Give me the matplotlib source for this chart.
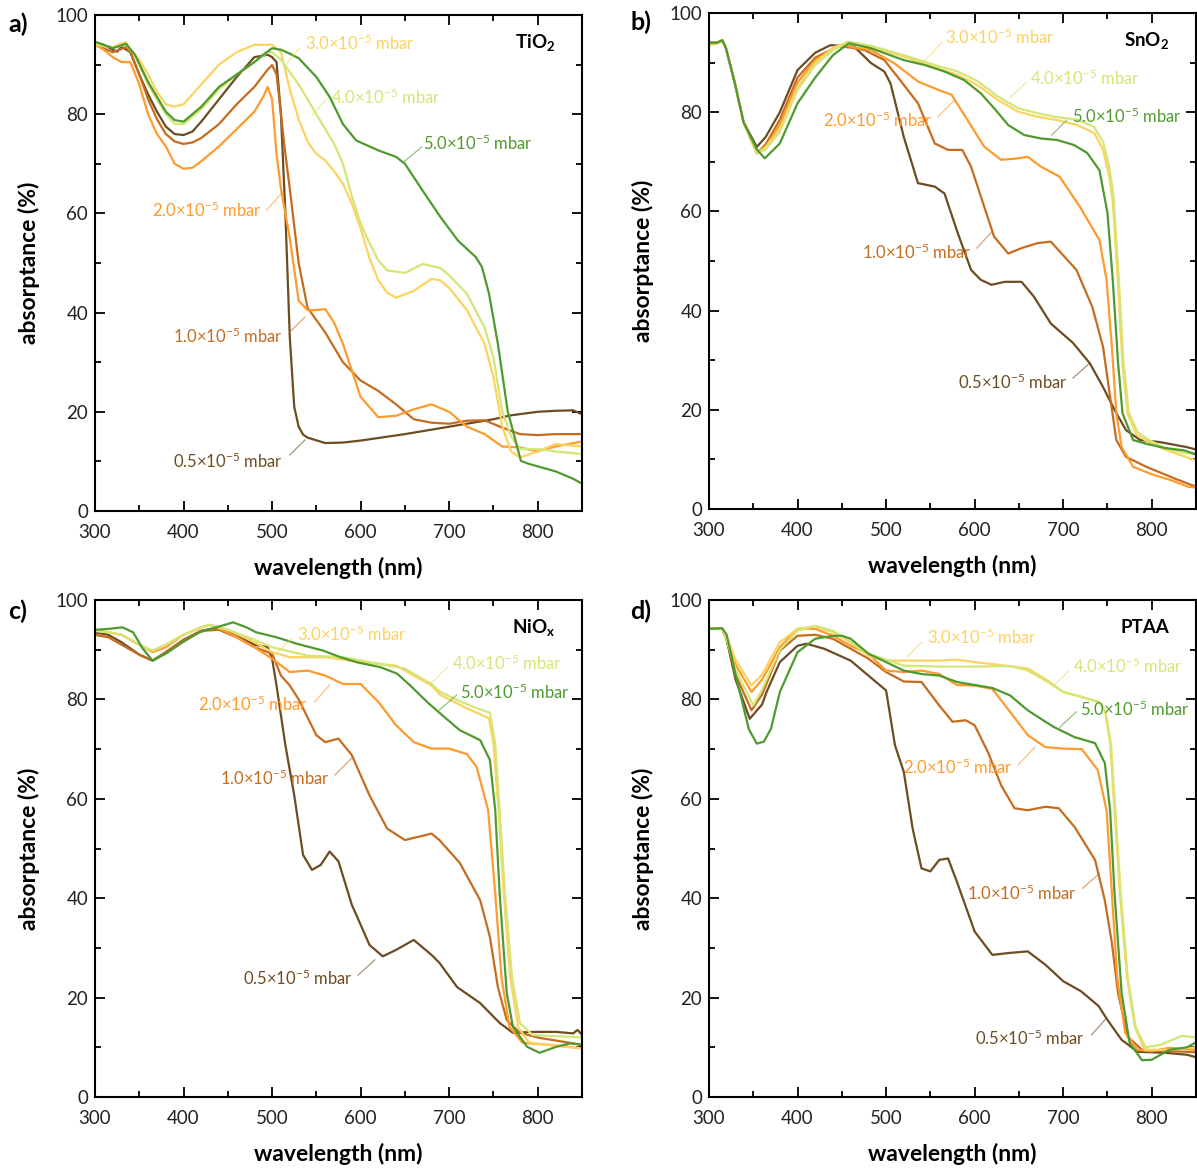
import matplotlib
matplotlib.use("Agg")
import matplotlib.pyplot as plt
from matplotlib.ticker import MultipleLocator

plt.rcParams['font.family'] = ['Lato', 'DejaVu Sans']
plt.rcParams['mathtext.fontset'] = 'custom'
plt.rcParams['mathtext.rm'] = 'Lato'
plt.rcParams['mathtext.bf'] = 'Lato:bold'
plt.rcParams['mathtext.it'] = 'Lato:italic'

series_labels = ["0.5", "1.0", "2.0", "3.0", "4.0", "5.0"]
colors = ["#6d4c22", "#c56c1f", "#ff9a2c", "#fcd35f", "#d3e677", "#4f9a2e"]
panel_titles = ["TiO$_\\mathbf{2}$", "SnO$_\\mathbf{2}$", "NiO$_\\mathbf{x}$", "PTAA"]
panel_letters = ["a)", "b)", "c)", "d)"]
x_ticks = [300, 400, 500, 600, 700, 800]
y_ticks = [0, 20, 40, 60, 80, 100]

# ---------------- a) TiO2 ----------------
tio2_wl_05 = [300,310,320,325,330,340,350,360,370,380,390,400,410,420,440,460,480,495,500,505,510,515,520,525,530,535,540,560,580,600,650,700,750,770,800,820,840,850]
tio2_05 = [94.5,94,93,92.6,93.6,92.5,88,84,80.5,77.5,76,75.8,76.5,78.5,83,87.5,91.5,92,91.5,90.5,80,60,35,21,17,15.4,14.8,13.7,13.8,14.2,15.5,17,18.5,19.3,20,20.2,20.3,19.5]
tio2_wl_10 = [300,320,335,340,350,360,370,380,390,400,410,420,440,460,480,495,500,505,510,515,520,530,540,550,560,580,600,620,640,660,680,700,720,740,760,780,800,820,850]
tio2_10 = [94,92.5,93.5,92.5,88,83,79,76,74.5,74,74.3,75.2,78,82,85.5,89,89.9,88,80,72,65,50,41,38.5,36,30,26.3,24.2,21.5,18.5,17.8,17.6,18.2,18.3,16.8,15.5,15.3,15.5,15.5]
tio2_wl_20 = [300,310,320,330,340,350,360,370,380,390,400,410,420,440,460,480,490,495,500,505,510,520,530,540,550,560,570,580,600,620,640,660,680,700,720,740,760,780,800,820,850]
tio2_20 = [94,93,91.5,90.5,90.5,86,80,76,73.5,70,69,69.2,70.5,73.5,77,80.5,83.5,85.5,83,72,65,55,42.4,40.5,40.5,40.7,38,33.7,23,18.9,19.2,20.5,21.5,20,17,15.5,13,12.8,12,13,14]
tio2_wl_30 = [300,320,330,335,340,350,360,370,380,390,400,410,420,440,460,480,500,510,520,530,540,550,560,570,580,590,600,610,620,630,640,660,680,690,700,720,740,750,760,770,780,800,820,850]
tio2_30 = [94,93.5,94.3,94.5,93,91,88,84.5,82,81.5,82,84,86,90,92.5,94,94,92.5,85,79,74.5,72,70.7,68.5,66,62,57,51,46.5,44,43,44.4,46.8,46.5,45,40.5,33.7,27,17,12,10.8,12,13.5,13]
tio2_wl_40 = [300,320,335,345,360,380,390,400,420,440,460,480,495,500,510,520,530,540,550,560,570,580,590,600,610,620,630,650,670,690,700,720,740,750,760,770,780,800,820,850]
tio2_40 = [94.2,93.5,94,92,86,80,78,78,81,85,88,90.5,92.5,92.5,91,88.5,86,83,80,77,74,70,63.5,58,54,50.5,48.5,48,49.8,49,47.5,43.8,37,31,20,15,12.5,12.5,12,11.5]
tio2_wl_50 = [300,320,335,345,360,380,390,400,420,440,460,480,490,500,510,520,530,550,565,580,595,620,640,650,670,690,710,730,737,745,755,766,781,790,800,820,840,850]
tio2_50 = [94.6,93.3,94.2,92,86.5,80.5,78.8,78.5,81.5,85.5,88,90.5,92,93.3,93,92.2,91.3,87.5,83.5,78,74.7,72.7,71.4,70,64.6,59.3,54.5,51.2,49.2,43.8,33.7,20.2,10.1,9.5,9,8,6.5,5.5]

# ---------------- b) SnO2 ----------------
sno2_wl_05 = [300,309,315,319,329,339,354,364,380,400,420,437,451,464,483,498,505,520,536,555,566,581,596,607,619,634,653,667,686,711,730,745,760,771,787,809,839,850]
sno2_05 = [94,94,94.5,93,86,78,73,75,80,88.5,92,93.5,93.4,93.2,89.9,88.2,85.8,75,65.7,65,63.6,55.6,48.2,46.2,45.2,45.8,45.8,42.8,37.4,33.5,29.4,24.6,19.3,15.9,13.9,13.5,12.5,12]
sno2_wl_10 = [300,309,315,319,329,339,354,364,380,400,420,446,461,476,498,517,536,555,570,586,596,612,622,638,653,671,686,715,733,745,753,760,771,794,828,850]
sno2_10 = [94,94,94.5,93,86,78,71.7,73.5,78.5,87,91,93.3,93,92.5,90.5,86.2,81.8,73.7,72.4,72.4,69,60.3,54.9,51.5,52.6,53.6,53.9,48.2,40.7,32.7,22.6,13.9,10.5,8.5,6,4.5]
sno2_wl_20 = [300,309,315,319,329,339,354,364,380,400,420,440,453,466,483,509,536,559,574,592,611,630,649,660,675,696,719,741,749,755,760,766,779,800,822,841,850]
sno2_20 = [93.8,94,94.5,93,86,78,71.7,73,77.5,86,90.5,92.8,93.5,93,92.5,89.9,86.2,84.5,83.5,78.4,73,70.4,70.7,71,69,67,60.9,54.2,46.2,32.7,19.3,12.5,8.5,7,5.8,4.5,4.3]
sno2_wl_30 = [300,309,315,319,329,339,354,364,380,400,420,440,457,483,520,559,581,603,626,649,671,693,716,735,745,752,756,762,767,773,783,798,815,837,850]
sno2_30 = [93.5,93.8,94.3,93,86,78,71.7,73,76.5,85,90,93,94.2,93.2,91.2,88.8,87.5,85.5,82.5,80.1,79.1,78.4,77.4,75.8,72.5,67,62,45,29,19,15,13.3,12,10.6,9.8]
sno2_wl_40 = [300,309,315,319,329,339,354,364,380,400,420,440,457,483,520,559,581,603,626,649,671,693,716,735,745,752,757,763,768,774,784,798,815,837,850]
sno2_40 = [93.8,94,94.5,93,86,78,71.7,72.5,76,84.5,89.5,92.5,94.2,93.4,91.5,89.3,88.2,86.3,83.2,80.8,79.8,79,78.5,77,74,69,63,46,30,19.5,15.5,13.8,12.3,11.3,11]
sno2_wl_50 = [300,309,315,319,329,339,354,363,380,400,420,440,458,483,520,544,566,588,607,622,638,656,675,693,712,727,741,750,756,762,767,779,795,815,837,850]
sno2_50 = [94,94,94.5,93,86,78,72.5,70.7,73.7,81.8,87,91.5,93.9,92.9,90.5,89.5,88.2,86.5,83.8,80.8,77.4,75.4,74.7,74.4,73.4,71.8,68.3,59.7,46.2,29.4,19.3,13.9,13.1,12.3,11.8,11]

# ---------------- c) NiOx ----------------
niox_wl_05 = [300,315,330,350,365,380,400,420,440,460,480,495,500,505,515,525,535,545,555,565,575,590,610,625,640,660,680,689,709,735,757,772,794,821,840,845,850]
niox_05 = [93.5,93,91.5,89,87.8,89.5,92,93.8,94.5,93,91,90.5,88.2,82.8,70.8,60.7,48.7,45.7,46.7,49.4,47.4,38.7,30.6,28.3,29.6,31.6,28.6,27,22.1,18.9,14.9,12.9,13.1,13.1,12.8,13.5,12.5]
niox_wl_10 = [300,315,330,350,365,380,400,420,440,460,480,500,510,520,530,550,560,575,590,610,630,650,680,689,712,735,746,755,765,780,802,850]
niox_10 = [93,92.5,91,89,87.8,89.5,92,93.8,94,92.5,90.5,89.2,84.8,82.8,80,72.8,71.4,72.1,68.8,60.7,54,51.7,53,51.7,47.1,39.6,32.2,22.1,15.5,12.9,11.9,10.5]
niox_wl_20 = [300,315,330,350,365,380,400,420,430,450,480,500,520,540,560,580,600,620,640,660,680,700,720,731,744,752,759,768,783,813,850]
niox_20 = [94,93.5,93,91,89.5,90.5,93,94.5,95,93.5,90.5,88.2,85.5,85.8,84.8,83.1,83.1,79.5,74.8,71.4,70.1,70.1,69,66.4,57.7,41,24.1,14.1,10.9,10.5,9.8]
niox_wl_30 = [300,315,330,350,365,380,400,420,430,450,480,500,520,560,600,640,680,690,720,745,750,756,762,769,778,790,810,850]
niox_30 = [93.8,93.5,93,91,89.8,91,93,94.5,95,94,91.5,89.5,88.5,88.5,87.5,86.8,82.8,80.9,78.2,76.2,71,57,40,24,14,11,10.5,9.8]
niox_wl_40 = [300,315,330,350,365,380,400,420,430,450,480,500,540,580,620,650,680,690,710,730,746,752,757,763,771,780,794,813,850]
niox_40 = [93.8,93.5,93,91,89.8,91,93,94.5,95,94,92,90.5,88.8,88.5,87.2,86.2,83.1,81.5,79.8,78.3,77.3,71.2,57.7,41,24.1,14.9,12.5,12.3,12]
niox_wl_50 = [300,316,331,343,354,365,380,399,418,437,456,471,482,505,528,558,577,595,622,641,656,675,689,712,735,746,752,757,765,772,788,802,821,837,850]
niox_50 = [94,94.2,94.5,93.5,90.2,87.8,89.2,91.5,93.5,94.5,95.5,94.5,93.5,92.5,91.2,89.8,88.5,87.5,86.5,85.2,82.8,79.5,77.3,73.8,71.8,67.8,57.7,41,20.9,14.1,10.1,8.9,10.1,10.8,10.5]

# ---------------- d) PTAA ----------------
ptaa_wl_05 = [300,315,320,330,346,360,365,380,400,410,430,460,480,500,510,520,530,540,550,560,570,580,600,620,640,660,680,700,720,740,750,766,784,815,840,850]
ptaa_05 = [94.2,94.2,92,84,76.1,79,81.5,87.5,90.8,91.2,90.2,87.8,84.8,81.8,70.8,65.4,54,46,45.4,47.7,48,43.3,33.3,28.6,29,29.3,26.6,23.3,21.3,18.3,15.5,11.5,9.1,8.9,8.5,8]
ptaa_wl_10 = [300,315,320,330,348,360,380,400,420,440,460,480,500,520,540,560,575,590,600,615,630,645,660,680,695,713,736,747,755,762,773,789,850]
ptaa_10 = [94.2,94.2,92,85,77.8,81,89.8,92.8,93,92.2,90.2,88.2,85.5,83.6,83.5,78.8,75.5,75.8,74.8,69.4,62.7,58.1,57.7,58.4,58.1,54.3,47.7,39.6,31,20.9,12.1,9.5,9]
ptaa_wl_20 = [300,315,320,330,348,360,380,400,420,440,460,480,500,520,540,560,580,600,620,640,660,680,700,721,739,749,755,761,770,784,800,820,850]
ptaa_20 = [94.2,94.2,92.5,87,81.5,84,90.5,94.2,94.2,92.8,90.8,89.2,85.8,85.5,85.8,85.1,82.9,82.8,82.1,77.5,72.8,70.4,70.1,70,65.8,57.7,41,24.1,12.9,9.5,9.2,9.9,9.5]
ptaa_wl_30 = [300,315,320,330,348,360,380,400,420,440,460,480,500,520,560,580,600,640,660,680,700,721,740,747,753,758,764,772,781,792,820,850]
ptaa_30 = [94.2,94.2,92.5,88,82.8,85,91.5,94.2,94.7,93.5,91.5,88.8,87.8,87.8,87.8,88,87.5,86.7,86.2,84.1,81.5,80.5,79.5,77.9,71.2,57.7,41,24.1,14.1,9.5,9.5,10]
ptaa_wl_40 = [300,315,320,330,350,360,380,400,420,440,480,520,560,600,640,660,680,700,740,748,754,759,765,773,782,793,810,834,850]
ptaa_40 = [94.2,94.2,92,86,78.8,82,90,93.8,94.8,93.8,89.2,86.8,86.6,86.6,86.7,85.8,83.8,81.5,79.5,77.5,71,57.5,41,24,14,10,10.5,12.3,12]
ptaa_wl_50 = [300,315,320,330,345,354,362,370,380,400,420,440,450,460,480,500,520,540,560,580,600,620,640,660,680,690,713,736,747,753,758,766,775,789,800,820,840,850]
ptaa_50 = [94.2,94.3,93,85,74,71.1,71.5,74.1,81.5,89.5,92.2,92.8,92.8,92.2,89.2,87.5,85.8,85.1,84.8,83.5,82.9,82.3,80.8,77.8,75.5,74.4,72.4,71.2,67.2,57.7,41,20.9,10.9,7.4,7.5,9.5,10,11]

panels = [
    [(tio2_wl_05, tio2_05), (tio2_wl_10, tio2_10), (tio2_wl_20, tio2_20),
     (tio2_wl_30, tio2_30), (tio2_wl_40, tio2_40), (tio2_wl_50, tio2_50)],
    [(sno2_wl_05, sno2_05), (sno2_wl_10, sno2_10), (sno2_wl_20, sno2_20),
     (sno2_wl_30, sno2_30), (sno2_wl_40, sno2_40), (sno2_wl_50, sno2_50)],
    [(niox_wl_05, niox_05), (niox_wl_10, niox_10), (niox_wl_20, niox_20),
     (niox_wl_30, niox_30), (niox_wl_40, niox_40), (niox_wl_50, niox_50)],
    [(ptaa_wl_05, ptaa_05), (ptaa_wl_10, ptaa_10), (ptaa_wl_20, ptaa_20),
     (ptaa_wl_30, ptaa_30), (ptaa_wl_40, ptaa_40), (ptaa_wl_50, ptaa_50)],
]

# label annotations: (text x, text y, ha, leader start, leader end) per series
annots = [
    [(512, 10.1, 'right', (520, 11.3), (537, 14.3)),
     (512, 35.3, 'right', (520, 36.1), (537, 39.1)),
     (488, 60.7, 'right', (494, 60.7), (512, 64.3)),
     (537, 94.2, 'left', (516.7, 90.3), (531, 93.3)),
     (566, 83.5, 'left', (545, 79.8), (563, 83.3)),
     (670, 74.2, 'left', (647.6, 70.2), (669, 73.4))],
    [(705, 25.6, 'right', (711, 26.4), (730, 29.4)),
     (597, 51.8, 'right', (602.5, 52.6), (619, 55.8)),
     (553, 78.4, 'right', (558, 79.0), (577.6, 82.5)),
     (566, 95.0, 'left', (544, 90.5), (564, 94.2)),
     (662, 86.9, 'left', (640, 82.9), (659, 86.1)),
     (710, 79.2, 'left', (687, 75.4), (704, 78.4))],
    [(591, 23.9, 'right', (597, 24.5), (616, 27.6)),
     (565, 64.2, 'right', (571, 64.8), (590, 68.2)),
     (540, 79.0, 'right', (548, 79.5), (565, 82.9)),
     (528, 93.0, 'left', (505, 89.3), (523, 92.4)),
     (703, 87.3, 'left', (680, 83.3), (698, 86.5)),
     (712, 81.5, 'left', (689, 77.9), (708.6, 80.9))],
    [(724, 11.9, 'right', (732, 12.5), (749, 15.9)),
     (715, 41.0, 'right', (722, 42.0), (741, 45.0)),
     (643, 66.4, 'right', (649, 66.8), (668, 70.4)),
     (546, 92.4, 'left', (523.5, 88.5), (540, 91.5)),
     (711, 86.7, 'left', (688, 82.5), (707, 85.9)),
     (719, 78.0, 'left', (696, 74.4), (715, 77.5))],
]

W, H = 1197, 1173
fig = plt.figure(figsize=(W / 100, H / 100), dpi=100)

axes_px = [(95, 15, 487, 496), (709, 13, 487, 496), (95, 600, 487, 497), (709, 600, 487, 497)]
letter_px = [(8, 24), (630, 22), (8, 611), (630, 611)]

for i, (l, t, w, h) in enumerate(axes_px):
    ax = fig.add_axes([l / W, 1 - (t + h) / H, w / W, h / H])
    for (wl, vals), c in zip(panels[i], colors):
        ax.plot(wl, vals, color=c, lw=1.6, solid_joinstyle='round')
    for (tx, ty, ha, p0, p1), c, s in zip(annots[i], colors, series_labels):
        ax.text(tx, ty, s + "\u00d710$^{-5}$ mbar", color=c, fontsize=12, ha=ha, va='center')
        ax.plot([p0[0], p1[0]], [p0[1], p1[1]], color=c, lw=0.9, alpha=0.6)
    ax.set_xlim(300, 850)
    ax.set_ylim(0, 100)
    ax.set_xticks(x_ticks)
    ax.set_yticks(y_ticks)
    ax.xaxis.set_minor_locator(MultipleLocator(50))
    ax.yaxis.set_minor_locator(MultipleLocator(10))
    ax.tick_params(which='both', direction='in', top=True, right=True, labelsize=13.5,
                   width=1.3, colors='black', labelcolor='#222222')
    ax.tick_params(which='major', length=7)
    ax.tick_params(which='minor', length=4)
    ax.tick_params(axis='x', which='major', pad=9)
    ax.tick_params(axis='y', which='major', pad=5)
    for sp in ax.spines.values():
        sp.set_linewidth(1.5)
    ax.set_xlabel("wavelength (nm)", fontsize=16.5, fontweight='bold', labelpad=12)
    ax.set_ylabel("absorptance (%)", fontsize=16.5, fontweight='bold', labelpad=11)
    ax.text(0.945, 0.945, panel_titles[i], transform=ax.transAxes, ha='right', va='center',
            fontsize=13.5, fontweight='bold')
    lx, ly = letter_px[i]
    fig.text(lx / W, 1 - ly / H, panel_letters[i], fontsize=18, fontweight='bold', va='center', ha='left')

fig.savefig("out.png", dpi=100)
